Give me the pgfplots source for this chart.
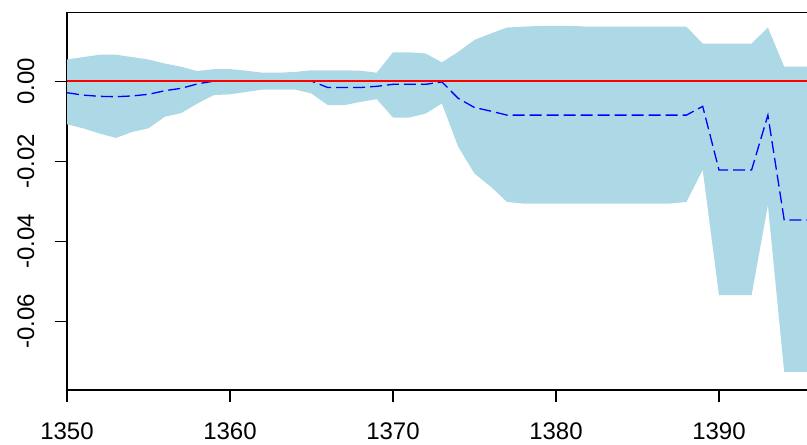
\documentclass[border=0pt]{standalone}
\usepackage{fontspec}
\setmainfont{Liberation Sans}
\usepackage{pgfplots}
\usepackage{pgfplotstable}
\pgfplotsset{compat=1.18}
\usepgfplotslibrary{fillbetween}
\definecolor{lightbluefill}{RGB}{173,216,230}
\pgfplotstableread{
year lo up m
1350 -0.0108 0.0054 -0.0029
1351 -0.0118 0.0060 -0.0035
1352 -0.0131 0.0066 -0.0038
1353 -0.0142 0.0066 -0.0039
1354 -0.0127 0.0060 -0.0037
1355 -0.0118 0.0054 -0.0033
1356 -0.0089 0.0044 -0.0024
1357 -0.0080 0.0036 -0.0018
1358 -0.0056 0.0025 -0.0007
1359 -0.0035 0.0030 0.0000
1360 -0.0033 0.0030 0.0000
1361 -0.0027 0.0026 0.0000
1362 -0.0021 0.0021 0.0000
1363 -0.0021 0.0021 0.0000
1364 -0.0021 0.0023 0.0000
1365 -0.0031 0.0027 0.0000
1366 -0.0060 0.0027 -0.0016
1367 -0.0060 0.0027 -0.0016
1368 -0.0052 0.0026 -0.0016
1369 -0.0045 0.0021 -0.0013
1370 -0.0091 0.0072 -0.0008
1371 -0.0091 0.0072 -0.0008
1372 -0.0081 0.0069 -0.0008
1373 -0.0056 0.0047 -0.0002
1374 -0.0164 0.0073 -0.0043
1375 -0.0231 0.0103 -0.0066
1376 -0.0264 0.0119 -0.0075
1377 -0.0302 0.0134 -0.0085
1378 -0.0306 0.0136 -0.0085
1379 -0.0306 0.0138 -0.0085
1380 -0.0306 0.0138 -0.0085
1381 -0.0306 0.0138 -0.0085
1382 -0.0306 0.0136 -0.0085
1383 -0.0306 0.0136 -0.0085
1384 -0.0306 0.0136 -0.0085
1385 -0.0306 0.0136 -0.0085
1386 -0.0306 0.0136 -0.0085
1387 -0.0306 0.0136 -0.0085
1388 -0.0302 0.0136 -0.0085
1389 -0.0222 0.0094 -0.0063
1390 -0.0535 0.0094 -0.0222
1391 -0.0535 0.0094 -0.0222
1392 -0.0535 0.0094 -0.0222
1393 -0.0310 0.0134 -0.0085
1394 -0.0727 0.0036 -0.0347
1395 -0.0727 0.0036 -0.0347
1396 -0.0727 0.0036 -0.0347
}\data
\begin{document}
\begin{tikzpicture}
\begin{axis}[
  at={(67pt,55pt)}, anchor=south west,
  scale only axis, width=749.8pt, height=377.3pt,
  xmin=1350, xmax=1396, ymin=-0.0772, ymax=0.0171,
  axis line style={black, line width=1.2pt},
  tick style={black, line width=1.2pt},
  tick align=outside, major tick length=12pt,
  xtick={1350,1360,1370,1380,1390},
  xticklabels={1350,1360,1370,1380,1390},
  ytick={-0.06,-0.04,-0.02,0},
  yticklabels={-0.06,-0.04,-0.02,0.00},
  scaled y ticks=false,
  xtick pos=bottom, ytick pos=left,
  ticklabel style={font=\fontsize{24}{28}\selectfont},
  xticklabel style={yshift=-17pt},
  yticklabel style={rotate=90, anchor=south, yshift=17pt},
]
\addplot[name path=U, draw=none] table[x=year,y=up]{\data};
\addplot[name path=L, draw=none] table[x=year,y=lo]{\data};
\addplot[fill=lightbluefill, draw=none] fill between[of=U and L];
\addplot[blue, line width=1.3pt, dash pattern=on 12pt off 5pt] table[x=year,y=m]{\data};
\addplot[red, line width=1.5pt] coordinates {(1340,0) (1400,0)};
\end{axis}
\pgfresetboundingbox
\useasboundingbox (0,0) rectangle (807pt,445pt);
\end{tikzpicture}
\end{document}
